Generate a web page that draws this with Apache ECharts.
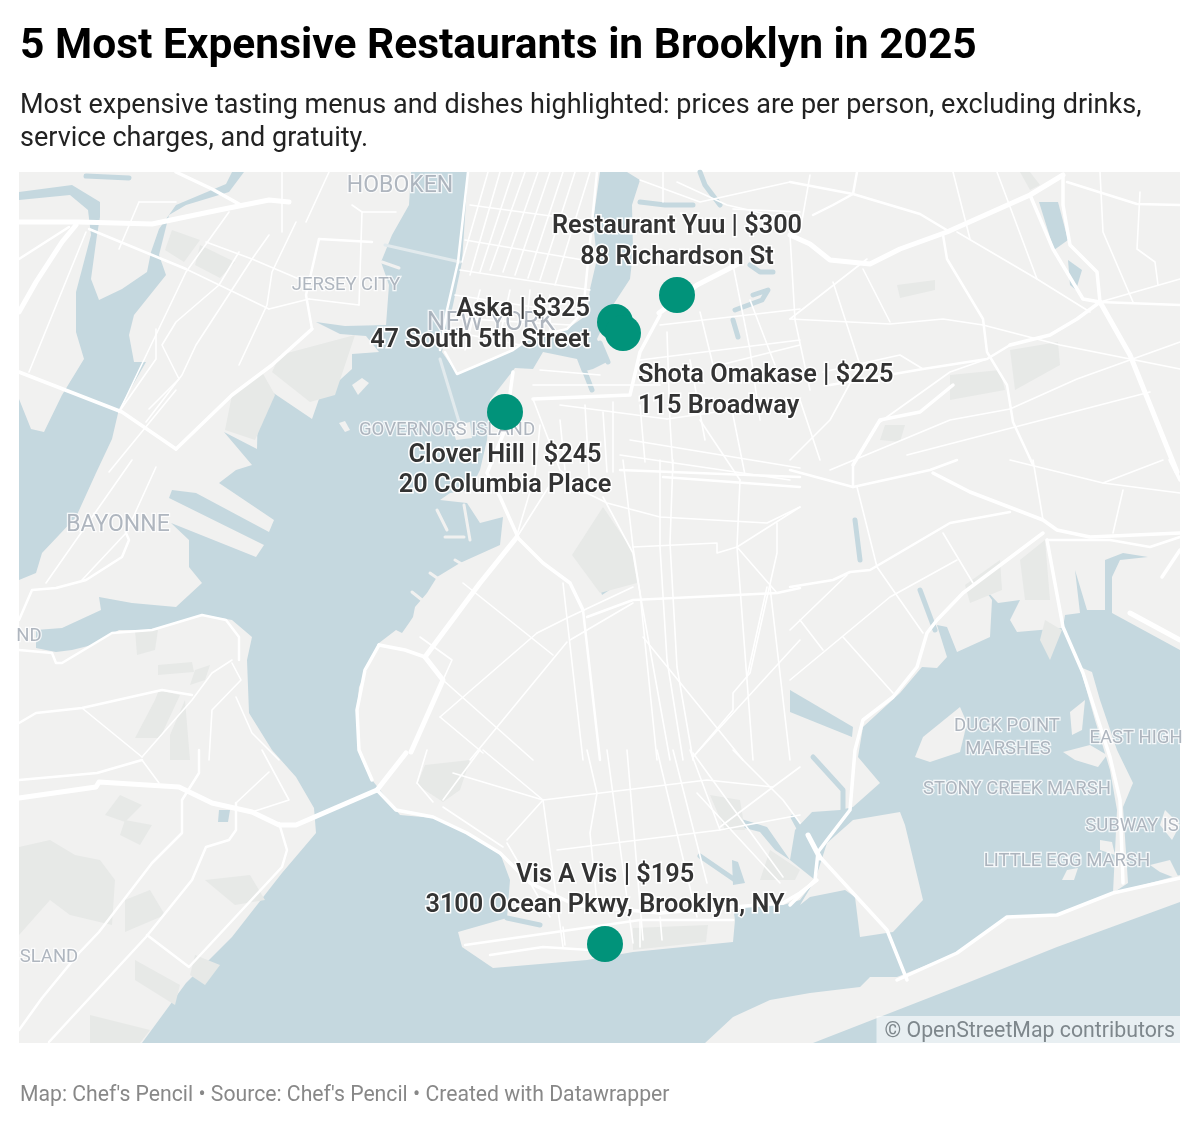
<!DOCTYPE html>
<html lang="en">
<head>
    <meta charset="UTF-8">
    <title>5 Most Expensive Restaurants in Brooklyn in 2025</title>
    <script src="https://cdn.jsdelivr.net/npm/echarts@6/dist/echarts.min.js"></script>
    <style>
        html, body { margin: 0; background: #fff; }
        #chart { width: 1200px; height: 1126px; }
    </style>
</head>
<body>
    <div id="chart"></div>
    <script>
        // restaurants (x / y are map units on the hidden axes)
        var names = ['Restaurant Yuu', 'Aska', 'Shota Omakase', 'Clover Hill', 'Vis A Vis'];
        var prices = [300, 325, 225, 245, 195];
        var addresses = ['88 Richardson St', '47 South 5th Street', '115 Broadway', '20 Columbia Place', '3100 Ocean Pkwy, Brooklyn, NY'];
        var pointX = [677, 615, 623, 505, 605];
        var pointY = [295, 322, 333, 412, 944];

        // place names printed on the base map
        var placeNames = ['HOBOKEN', 'JERSEY CITY', 'NEW YORK', 'GOVERNORS ISLAND', 'BAYONNE', 'ND', 'DUCK POINT', 'MARSHES', 'EAST HIGH', 'STONY CREEK MARSH', 'SUBWAY IS', 'LITTLE EGG MARSH', 'SLAND'];
        var placeX = [400, 346, 491, 447, 118, 29, 1007, 1008, 1136, 1017, 1132, 1067, 49];
        var placeY = [186, 285, 323, 430, 525, 636, 726, 749, 738, 789, 826, 861, 957];

        // base map outlines
        var waterShapes = [
            // harbour, bay, ocean and Jamaica Bay in one outline
            [[411,172],[409,205],[392,235],[381,262],[389,285],[386,325],[345,326],[316,322],[340,334],[366,336],[379,352],[352,354],[352,369],[319,399],[312,419],[272,392],[258,405],[257,449],[224,432],[252,465],[236,470],[219,483],[274,520],[269,532],[196,493],[172,490],[169,498],[264,545],[256,557],[171,523],[189,540],[189,567],[202,583],[176,607],[132,603],[99,597],[101,610],[62,628],[36,630],[36,648],[56,652],[72,650],[92,645],[119,630],[152,630],[202,615],[232,620],[252,637],[247,660],[249,713],[272,750],[296,777],[314,808],[316,833],[282,873],[232,937],[186,983],[142,1043],[1180,1043],[1180,650],[1112,613],[1112,577],[1120,560],[1148,557],[1123,553],[1105,560],[1105,610],[1087,610],[1075,570],[1080,613],[1065,615],[1063,628],[1017,632],[1010,620],[1020,600],[998,603],[983,587],[992,600],[990,637],[957,652],[947,627],[937,625],[947,657],[937,668],[922,667],[900,693],[863,727],[858,757],[880,783],[853,807],[840,810],[812,812],[795,830],[790,860],[815,880],[800,900],[783,905],[733,907],[735,920],[733,942],[633,952],[587,960],[493,968],[462,947],[458,932],[507,918],[510,880],[500,853],[467,833],[433,818],[400,815],[396,810],[372,780],[359,750],[357,710],[359,687],[379,643],[396,630],[402,633],[409,623],[413,617],[415,607],[427,593],[437,577],[460,563],[500,545],[503,517],[480,523],[467,503],[440,500],[450,493],[470,490],[480,470],[487,440],[490,400],[515,368],[533,369],[543,352],[577,359],[582,372],[593,369],[607,362],[597,339],[613,305],[630,279],[633,252],[632,205],[640,180],[627,172],[600,172],[593,222],[597,259],[590,289],[587,315],[567,329],[530,338],[513,350],[490,360],[457,374],[442,352],[453,305],[462,262],[468,172]],
            // Newark Bay and the rivers above it
            [[19,580],[36,573],[42,553],[76,517],[96,473],[112,439],[119,409],[146,362],[134,362],[129,335],[134,315],[166,275],[159,255],[169,215],[186,205],[229,192],[244,172],[232,172],[226,184],[176,205],[159,229],[151,252],[147,272],[122,289],[99,300],[91,279],[97,235],[100,217],[100,202],[72,185],[19,192],[19,200],[70,195],[88,210],[91,235],[76,292],[76,332],[84,359],[62,395],[44,432],[31,429],[19,399]],
            // lake in Prospect Park
            [[598,583],[620,572],[620,583],[602,595]],
            // ponds by the Grand Central
            [[1039,202],[1058,202],[1068,240],[1054,250]],
            [[1068,260],[1082,270],[1076,290],[1070,285]],
            // creek at Paerdegat
            [[790,690],[853,727],[852,737],[790,712]],
            // Willowbrook pond
            [[219,810],[230,810],[228,822],[218,822]],
            // Gerritsen creek lagoon
            [[735,817],[767,827],[790,860],[775,850],[760,832],[737,826]],
            [[732,860],[738,862],[745,883],[733,885]]
        ];
        var landShapes = [
            // Rockaway
            [[705,1043],[733,1017],[770,1000],[810,993],[860,987],[870,977],[897,977],[957,953],[1007,917],[1057,915],[1113,893],[1180,875],[1180,902],[1057,947],[967,983],[890,1013],[813,1043]],
            // Floyd Bennett
            [[827,843],[853,820],[900,812],[905,825],[923,900],[893,932],[860,937],[855,897],[845,890],[810,897],[800,905],[815,880]],
            // marshes and strips in the bay
            [[915,757],[923,737],[960,707],[967,723],[960,752],[930,762]],
            [[1080,667],[1092,672],[1100,700],[1117,750],[1133,783],[1123,807],[1128,883],[1113,893],[1117,810],[1110,770],[1095,720]],
            [[1063,752],[1090,745],[1107,755],[1098,767],[1075,760]],
            [[1067,870],[1078,868],[1074,880],[1062,880]],
            [[1100,840],[1112,842],[1115,855],[1100,850]],
            [[1150,865],[1170,860],[1180,880],[1160,872]],
            [[1165,810],[1180,825],[1172,840],[1160,825]],
            [[1070,712],[1085,700],[1082,730],[1072,735]],
            // small harbour islands
            [[352,385],[362,378],[369,383],[358,395]],
            [[339,423],[345,421],[350,430],[345,432]],
            [[452,426],[470,422],[472,438],[456,440]]
        ];
        var parkShapes = [
            [[603,507],[632,550],[637,583],[600,593],[572,555]],
            [[172,230],[200,240],[184,262],[165,250]],
            [[200,245],[235,262],[220,278],[195,265]],
            [[280,355],[355,335],[335,395],[310,402],[272,372]],
            [[232,395],[262,372],[275,395],[255,440],[225,430]],
            [[135,630],[158,630],[155,650],[137,655]],
            [[158,665],[192,662],[194,672],[158,675]],
            [[159,690],[180,695],[160,738],[135,738],[155,700]],
            [[19,847],[50,840],[75,855],[100,860],[115,880],[112,925],[70,915],[50,900],[19,935]],
            [[120,795],[142,805],[125,822],[105,815]],
            [[125,820],[152,825],[140,845],[120,835]],
            [[125,900],[150,890],[165,915],[125,932]],
            [[205,880],[250,875],[265,900],[235,905]],
            [[195,955],[220,965],[205,985],[190,975]],
            [[135,960],[180,985],[175,1005],[135,980]],
            [[90,1015],[150,1030],[140,1043],[90,1043]],
            [[470,760],[425,765],[417,785],[443,802],[460,790]],
            [[710,795],[740,800],[745,830],[725,830]],
            [[770,850],[800,870],[795,880],[760,880]],
            [[633,928],[708,925],[706,942],[633,950]],
            [[965,585],[1000,560],[1002,590],[970,603]],
            [[1045,620],[1062,630],[1050,660],[1040,640]],
            [[1020,560],[1045,540],[1050,600],[1025,600]],
            [[950,375],[1000,370],[1005,390],[950,400]],
            [[1010,350],[1058,342],[1060,365],[1015,390]],
            [[897,285],[935,280],[935,290],[900,298]],
            [[885,425],[905,425],[900,442],[880,440]],
            [[1020,172],[1030,172],[1040,185],[1030,190]],
            [[195,670],[210,665],[205,680],[190,685]],
            [[170,735],[185,700],[190,760],[170,760]]
        ];
        var creeks = [
            [[640,202],[665,205],[693,205]],
            [[700,172],[705,185],[720,205]],
            [[750,265],[760,272],[773,272]],
            [[753,295],[768,290],[762,300],[735,310]],
            [[733,320],[738,337]],
            [[86,176],[129,178]],
            [[855,520],[860,560]],
            [[920,590],[935,630]],
            [[793,817],[800,830]],
            [[700,856],[735,880]],
            [[585,372],[592,390]],
            [[600,343],[608,362]],
            [[813,757],[843,790],[843,810]],
            [[507,918],[540,925]]
        ];
        // land colour slips that stick out into the water
        var piers = [
            [[382,262],[399,268]],
            [[437,510],[447,530]],
            [[464,505],[470,540]],
            [[445,537],[464,537]],
            [[412,592],[422,600]],
            [[430,573],[440,580]],
            [[455,560],[465,566]]
        ];
        // pale ferry and rail lines over the water
        var ferries = [
            [[385,245],[460,262]],
            [[440,359],[460,425]]
        ];
        var roadsWide = [
            [[659,313],[697,285],[740,263]],
            [[790,235],[810,244],[830,260],[870,264],[900,249],[947,232],[1030,195],[1063,175]],
            [[1100,302],[1130,355],[1177,472]],
            [[19,798],[96,787],[99,782],[179,787],[212,803],[252,812],[279,825],[296,825],[377,790]],
            [[425,657],[480,583],[517,537]],
            [[411,752],[443,680],[425,657]],
            [[377,790],[406,753]],
            [[19,312],[36,282],[62,242],[76,225]],
            [[1130,613],[1180,640]],
            [[19,222],[79,222],[152,224],[219,210],[269,200],[289,202]],
            [[808,835],[820,858]]
        ];
        var roadsMid = [
            [[660,315],[640,352],[630,395],[533,399]],
            [[517,535],[500,497],[487,473],[505,430],[513,372]],
            [[517,537],[543,563],[570,583],[583,610]],
            [[1043,533],[1003,563],[963,593],[937,620],[927,633],[917,667],[893,697],[863,720],[855,750],[850,810],[827,840],[818,852]],
            [[933,473],[970,492],[1043,520],[1057,530],[1090,537],[1180,533]],
            [[820,857],[887,930],[907,980]],
            [[818,852],[815,880],[790,905]],
            [[1030,195],[1053,249],[1083,299],[1100,302]],
            [[1063,175],[1063,205],[1070,245],[1097,272],[1100,302]],
            [[1047,540],[1063,627],[1083,673],[1110,757],[1120,800],[1123,883]],
            [[1100,302],[1077,319],[1050,335],[1010,345]],
            [[953,385],[920,412],[880,420],[853,465]],
            [[377,790],[396,810],[433,817],[467,833],[500,853],[530,883],[575,905],[660,913]],
            [[660,913],[783,903],[800,893],[817,880]],
            [[379,645],[405,650],[425,657]],
            [[379,645],[365,670],[357,710],[359,750],[372,780]],
            [[312,329],[272,365],[232,395],[176,449]],
            [[19,372],[122,412],[176,449]],
            [[176,172],[212,189],[239,204]],
            [[1162,577],[1180,550]],
            [[1170,460],[1180,480]],
            [[897,980],[957,953],[1007,917],[1057,915],[1113,893],[1180,878]]
        ];
        var roadsSmall = [
            [[790,182],[853,194],[920,214],[950,232]],
            [[857,172],[853,194],[833,205],[813,215]],
            [[1067,182],[1137,204],[1180,205]],
            [[1100,302],[1180,305]],
            [[1010,345],[987,359],[923,369],[830,385]],
            [[943,235],[947,259],[983,319],[987,352],[1007,385],[1013,422],[1033,465]],
            [[790,587],[833,580],[850,572],[870,570],[950,523],[1010,512]],
            [[853,487],[930,470],[957,460]],
            [[19,259],[69,227]],
            [[89,229],[186,269]],
            [[319,239],[372,242]],
            [[312,329],[306,295],[319,239]],
            [[19,620],[32,590],[56,588],[86,580],[122,557],[129,540],[126,533]],
            [[19,650],[52,653],[56,663],[62,663],[112,633],[152,630],[202,615],[226,620],[239,637],[239,660]],
            [[19,723],[36,713],[82,708],[162,690],[192,695]],
            [[19,780],[97,773],[142,760]],
            [[236,803],[236,830],[229,840],[206,847],[192,880],[146,937],[72,1017],[49,1042]],
            [[199,750],[199,773],[182,800],[182,833],[152,863],[99,932],[79,953],[42,998],[19,1030]],
            [[279,823],[287,850],[282,867],[189,967],[147,935]],
            [[587,617],[633,600],[777,593],[800,588]],
            [[583,610],[600,760]],
            [[468,172],[458,262],[447,310],[440,350]],
            [[597,172],[587,272],[583,312],[567,329],[530,338],[513,350],[490,360],[457,374],[445,352]],
            [[465,945],[640,920],[733,920]],
            [[490,955],[543,947],[590,950]],
            [[1047,540],[1110,540],[1150,547],[1180,537]],
            [[620,470],[800,477]],
            [[663,477],[800,487]],
            [[853,487],[790,470]],
            [[853,465],[853,487]]
        ];
        var roadsThin = [
            [[186,269],[269,309]],[[29,372],[86,232]],[[119,412],[186,272],[229,212]],
            [[309,299],[269,309]],[[239,252],[219,285],[176,322],[162,345],[179,379],[149,409]],
            [[269,235],[252,259],[196,345],[182,375],[146,422]],[[296,222],[272,272],[267,305],[239,365]],
            [[156,329],[156,359],[119,412]],[[109,472],[176,390]],[[282,172],[282,232]],[[329,172],[306,222]],
            [[352,205],[362,212],[396,212]],[[206,242],[252,259],[306,282]],[[139,202],[119,249]],[[139,202],[176,202]],
            [[362,212],[359,305]],[[309,299],[359,305]],[[132,460],[46,583]],[[156,467],[126,533],[82,580]],
            [[142,757],[82,708]],[[142,757],[192,700],[212,673],[232,660]],[[232,663],[241,680],[212,710],[209,760]],
            [[236,697],[252,733],[279,760]],[[142,760],[159,783]],[[236,803],[269,772]],[[262,750],[289,800],[252,812]],
            [[587,493],[607,503],[660,517],[767,523],[800,507]],[[623,460],[633,547],[640,593],[657,760]],
            [[603,497],[633,553],[643,610],[670,760]],[[660,460],[660,547],[667,660],[683,760]],
            [[673,460],[670,543],[677,667],[693,760]],[[740,480],[737,547],[743,627],[753,760]],
            [[777,523],[777,553],[750,673],[733,693],[733,710],[693,757]],[[770,587],[790,760]],
            [[737,547],[777,593]],[[633,547],[717,543],[717,553],[737,547],[800,507]],
            [[567,618],[633,587]],[[537,633],[567,618]],[[570,640],[633,603]],[[463,583],[553,655]],
            [[440,717],[537,633]],[[470,760],[567,642]],[[420,637],[452,660],[443,680]],[[443,680],[533,760]],
            [[440,717],[483,753]],[[563,583],[583,760]],[[643,637],[743,760]],[[767,587],[747,677]],
            [[800,640],[693,757]],[[543,800],[707,780],[773,787]],[[543,800],[507,840]],[[543,800],[483,750]],
            [[543,800],[563,947]],[[607,750],[633,943]],[[627,750],[643,940]],[[587,750],[597,793],[590,833],[597,903]],
            [[657,750],[697,917]],[[673,750],[707,883]],[[690,750],[720,830]],[[557,850],[720,830],[800,815]],
            [[697,793],[780,883]],[[720,827],[773,787],[800,767]],[[693,753],[783,877]],[[733,750],[783,800],[800,823]],
            [[417,783],[427,750]],[[417,783],[433,802]],[[443,800],[480,750]],[[443,807],[503,847]],[[453,773],[543,800]],
            [[507,843],[550,917]],[[640,920],[640,947]],[[660,917],[662,940]],[[563,927],[565,945]],
            [[790,680],[890,597],[957,560]],[[857,487],[877,567],[923,633]],[[943,533],[973,583]],
            [[1033,460],[1043,520]],[[1010,460],[1103,483],[1180,493]],[[1103,483],[1163,460]],[[1123,490],[1113,533]],
            [[790,630],[847,575]],[[800,620],[823,650]],[[843,637],[893,693]],[[833,282],[860,365]],[[863,269],[890,322]],
            [[790,319],[890,324],[943,319],[983,325],[1060,345],[1180,369]],[[790,319],[867,259]],
            [[953,172],[970,239]],[[997,172],[1037,279]],[[957,232],[1037,279],[1090,312]],
            [[1100,172],[1103,232],[1133,302]],[[1140,192],[1137,249],[1155,262],[1158,285]],[[1180,279],[1100,302]],
            [[1010,409],[1077,379],[1180,342]],[[907,455],[1150,392]],[[830,470],[950,420],[1010,409]],
            [[880,422],[950,372],[987,359]],[[790,460],[830,420],[860,365]],[[823,372],[900,355],[923,369]],
            // Manhattan
            [[500,172],[470,275]],[[525,172],[490,270]],[[550,172],[515,275]],[[575,172],[540,280]],
            [[488,172],[462,262]],[[513,172],[480,272]],[[538,172],[503,272]],[[563,172],[528,278]],[[590,172],[555,285]],
            [[465,240],[595,262]],[[460,270],[590,290]],[[470,205],[595,222]],[[455,295],[585,315]],[[445,330],[520,345]],
            [[480,290],[465,350]],[[510,290],[498,345]],[[530,290],[525,340]],[[550,295],[550,335]],
            [[452,318],[570,325]],
            // Brooklyn and Queens north of the marks
            [[640,180],[700,202],[790,182]],[[677,182],[727,205],[800,222]],[[733,209],[800,212]],[[663,172],[663,202]],
            [[660,325],[800,309]],[[560,405],[667,419]],[[613,402],[613,472]],[[603,412],[607,472]],
            [[667,332],[670,422],[673,472]],[[700,312],[713,365]],[[667,419],[800,400]],[[533,399],[560,470],[587,493]],
            [[630,440],[800,468]],[[540,425],[535,475],[517,535]],[[620,455],[790,480]],[[553,480],[517,537]],
            [[720,365],[800,345]],[[750,300],[775,365]],[[733,265],[750,350],[760,420]],[[790,235],[795,320],[810,390]],
            [[800,232],[810,175]],[[700,420],[740,480]],[[800,400],[820,460]],
            [[560,420],[565,470]],[[585,405],[590,490]],[[640,405],[645,462]],[[690,360],[705,440]],[[730,400],[745,475]],
            [[533,385],[660,385]],[[540,370],[600,375]],[[640,360],[800,340]]
        ];
        var waterColor = '#c5d8df';
        var landColor = '#f1f1f0';
        var parkColor = '#e7e9e7';

        // polygons of one base map layer, through the axes
        function polygonSeries(shapes, color, z) {
            return {
                type: 'custom',
                coordinateSystem: 'cartesian2d',
                silent: true,
                clip: true,
                z: z,
                data: shapes.map(function (s, i) { return [i]; }),
                renderItem: function (params, api) {
                    var pts = shapes[api.value(0)].map(function (p) { return api.coord(p); });
                    return { type: 'polygon', shape: { points: pts }, style: { fill: color } };
                }
            };
        }
        function lineSeries(paths, color, width, z) {
            return {
                type: 'lines',
                coordinateSystem: 'cartesian2d',
                polyline: true,
                silent: true,
                z: z,
                lineStyle: { color: color, width: width, opacity: 1, cap: 'round', join: 'round' },
                data: paths.map(function (p) { return { coords: p }; })
            };
        }

        // where each restaurant's two lines sit around its dot
        var labelOffset = [[0, -53], [-25, 3], [15, 58], [0, 58.5], [0, -53.5]];
        var labelAlign = ['center', 'right', 'left', 'center', 'center'];
        var placeFontSize = [23, 18.5, 26, 18.6, 23, 18.5, 18.5, 18.5, 18.5, 18.5, 18.5, 18.5, 18.5];

        var chart = echarts.init(document.getElementById('chart'), null, { renderer: 'canvas' });

        var option = {
            animation: false,
            backgroundColor: '#fff',
            title: [
                {
                    text: '5 Most Expensive Restaurants in Brooklyn in 2025',
                    left: 20, top: 26, padding: 0,
                    textStyle: { fontFamily: 'Roboto', fontSize: 42.5, fontWeight: 700, color: '#000' }
                },
                {
                    text: 'Most expensive tasting menus and dishes highlighted: prices are per person, excluding drinks,\nservice charges, and gratuity.',
                    left: 20, top: 90, padding: 0,
                    textStyle: { fontFamily: 'Roboto', fontSize: 27, fontWeight: 400, color: '#222', lineHeight: 33 }
                },
                {
                    text: "Map: Chef's Pencil \u2022 Source: Chef's Pencil \u2022 Created with Datawrapper",
                    left: 20, top: 1085, padding: 0,
                    textStyle: { fontFamily: 'Roboto', fontSize: 21.2, fontWeight: 400, color: '#888' }
                },
                {
                    text: '\u00a9 OpenStreetMap contributors',
                    right: 20, top: 1016, padding: [5, 5, 1, 8],
                    backgroundColor: 'rgba(255,255,255,0.6)',
                    textStyle: { fontFamily: 'Roboto', fontSize: 21.3, fontWeight: 400, color: '#7e878c' }
                }
            ],
            grid: { left: 19, right: 20, top: 172, bottom: 83, backgroundColor: landColor, show: true, borderWidth: 0 },
            xAxis: { type: 'value', min: 19, max: 1180, show: false },
            yAxis: { type: 'value', min: 172, max: 1043, inverse: true, show: false },
            series: [
                polygonSeries(waterShapes, waterColor, 1),
                polygonSeries(landShapes, landColor, 2),
                polygonSeries(parkShapes, parkColor, 3),
                lineSeries(creeks, waterColor, 5, 3),
                lineSeries(piers, landColor, 3, 3),
                lineSeries(ferries, '#e2eaed', 3, 3),
                lineSeries(roadsThin, '#fff', 1.6, 4),
                lineSeries(roadsSmall, '#fff', 2.5, 4),
                lineSeries(roadsMid, '#fff', 3.5, 4),
                lineSeries(roadsWide, '#fff', 5, 4),
                {
                    type: 'scatter',
                    silent: true,
                    symbolSize: 0,
                    z: 5,
                    data: placeNames.map(function (n, i) {
                        return { value: [placeX[i], placeY[i]], name: n, label: { fontSize: placeFontSize[i] } };
                    }),
                    label: {
                        show: true,
                        position: 'inside',
                        formatter: '{b}',
                        fontFamily: 'Roboto',
                        color: '#9ba4af',
                        textBorderColor: '#fff',
                        textBorderWidth: 2.5
                    }
                },
                {
                    type: 'scatter',
                    silent: true,
                    symbolSize: 36,
                    z: 6,
                    itemStyle: { color: '#01937a', opacity: 1 },
                    data: names.map(function (n, i) {
                        return {
                            value: [pointX[i], pointY[i]],
                            name: n,
                            label: { offset: labelOffset[i], align: labelAlign[i] }
                        };
                    }),
                    label: {
                        show: true,
                        position: 'inside',
                        formatter: function (p) {
                            return p.name + ' | $' + prices[p.dataIndex] + '\n' + addresses[p.dataIndex];
                        },
                        fontFamily: 'Roboto',
                        fontSize: 25.3,
                        fontWeight: 600,
                        lineHeight: 30.5,
                        color: '#333',
                        textBorderColor: '#fff',
                        textBorderWidth: 3
                    }
                }
            ]
        };
        chart.setOption(option);
    </script>
</body>
</html>
